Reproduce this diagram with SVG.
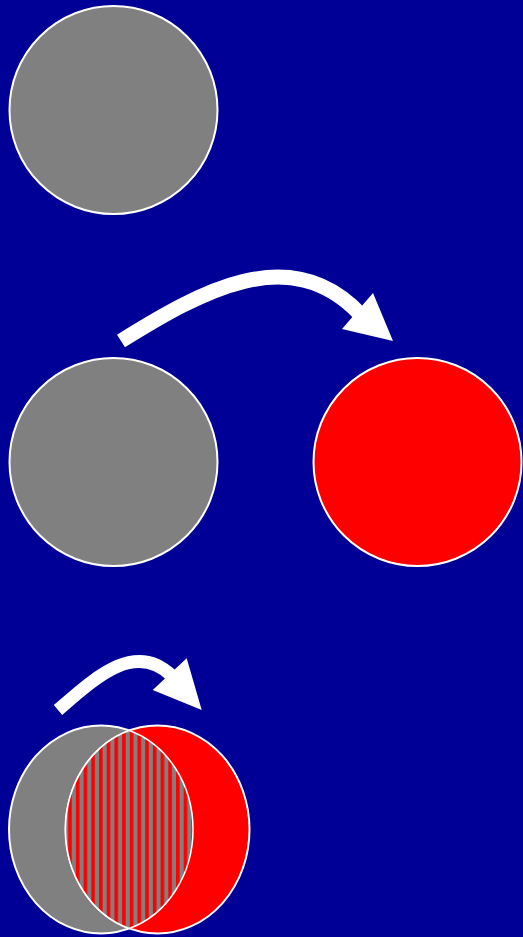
<svg xmlns="http://www.w3.org/2000/svg" width="523" height="937" viewBox="0 0 523 937">
  <style>
    .gray { fill: #808080; stroke: #ffffff; stroke-width: 2; }
    .red { fill: #ff0000; stroke: #ffffff; stroke-width: 2; }
    .lens { fill: url(#stripes); stroke: #ffffff; stroke-width: 1.5; }
    .arrow { fill: none; stroke: #ffffff; }
    .head { fill: #ffffff; stroke: none; }
  </style>
  <defs>
    <pattern id="stripes" patternUnits="userSpaceOnUse" x="6.6" y="0" width="7.7" height="10">
      <rect x="0" y="0" width="7.7" height="10" fill="#808080"/>
      <rect x="0" y="0" width="3.6" height="10" fill="#ff0000"/>
    </pattern>
  </defs>
  <rect x="0" y="0" width="523" height="937" fill="#000096"/>

  <g id="node-top-gray">
    <circle class="gray" cx="113.5" cy="110" r="104"/>
  </g>
  <g id="node-mid-gray">
    <circle class="gray" cx="113.5" cy="462" r="104"/>
  </g>
  <g id="node-mid-red">
    <circle class="red" cx="417.5" cy="462" r="104"/>
  </g>
  <g id="node-overlap">
    <ellipse class="gray" cx="101" cy="829.5" rx="92" ry="104"/>
    <ellipse class="red" cx="157.5" cy="829.5" rx="92" ry="104"/>
    <path class="lens" d="M129.25,730.52 A92,104 0 0,1 129.25,928.48 A92,104 0 0,1 129.25,730.52 Z"/>
  </g>

  <g id="connectors">
    <path class="arrow" stroke-width="15" d="M121,341 C200,292 290,240 360,314"/>
    <polygon class="head" points="393,341 373,293 342,329"/>
    <path class="arrow" stroke-width="13" d="M58,710 C95,678 135,640 172,676"/>
    <polygon class="head" points="201.7,710 186.7,658.3 152.7,690"/>
  </g>
</svg>
